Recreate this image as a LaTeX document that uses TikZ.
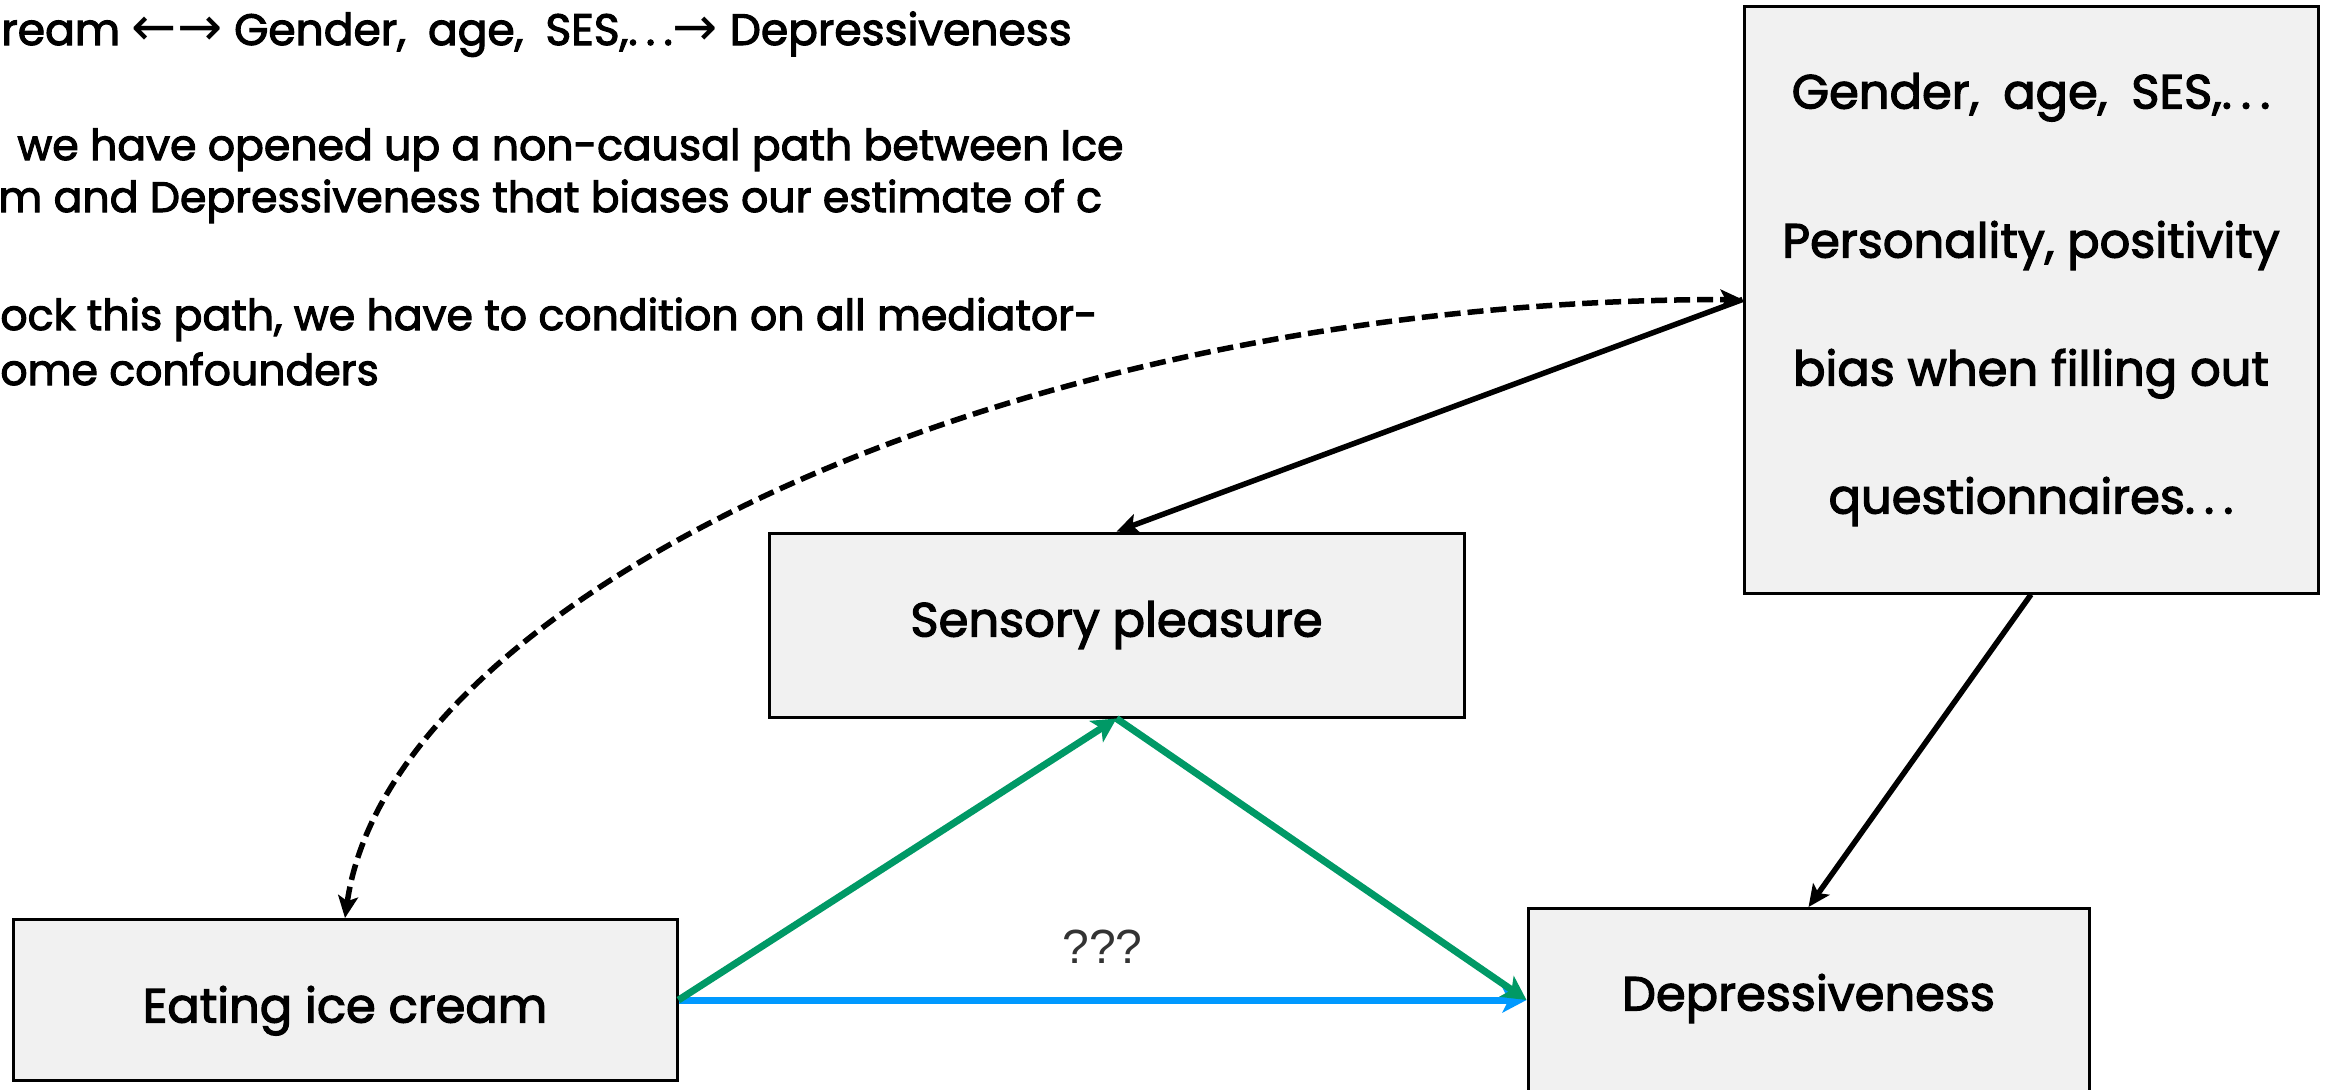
\documentclass[tikz,border=0pt]{standalone}
\usepackage{fontspec}
\setmainfont{Poppins}[FakeBold=2.5]
\newfontfamily\arrowglyphs{DejaVu Sans}
\newfontfamily\helv{Liberation Sans}
\usetikzlibrary{arrows.meta,calc}
\definecolor{boxgray}{HTML}{F1F1F1}
\definecolor{pathgreen}{HTML}{009966}
\definecolor{pathblue}{HTML}{0099FF}
\definecolor{labelgray}{HTML}{333333}
% widely spaced three dots
\newcommand\spdots{.\kern0.19em.\kern0.19em.}
% wide space after a comma
\newcommand\wsp{\hspace{0.5em}}
% enlarged arrow glyphs for the notes
\newcommand\bigarrow[1]{{\arrowglyphs\fontsize{27pt}{27pt}\selectfont #1}}
\begin{document}
\begin{tikzpicture}[x=0.5pt,y=-0.5pt,
  box/.style={draw=black,line width=1.5pt,fill=boxgray,inner sep=0pt,
    font=\fontsize{24pt}{28pt}\selectfont},
  note/.style={anchor=base west,inner sep=0pt,font=\fontsize{21.3pt}{25pt}\selectfont},
  qlabel/.style={inner sep=0pt,text=labelgray,font=\helv\fontsize{24pt}{28pt}\selectfont},
  blackarrow/.style={draw=black,line width=2.75pt,
    -{Stealth[length=11pt,width=10pt,inset=2.5pt]}},
  greenarrow/.style={draw=pathgreen,line width=3.5pt,
    -{Stealth[length=12pt,width=12.5pt,inset=3pt]}},
  bluearrow/.style={draw=pathblue,line width=3.5pt,
    -{Stealth[length=12pt,width=12.5pt,inset=3pt]}},
  dasharrow/.style={draw=black,line width=2.75pt,dash pattern=on 8pt off 3.5pt,
    {Stealth[length=11pt,width=10pt,inset=2.5pt]}-{Stealth[length=11pt,width=10pt,inset=2.5pt]}}]

\useasboundingbox (0,0) rectangle (2333,1089);
\clip (0,0) rectangle (2333,1089);
\fill[white] (0,0) rectangle (2333,1089);

% explanatory notes
\node[note,font=\fontsize{22pt}{26pt}\selectfont] (n1) at (1,45)
  {ream \bigarrow{←→} Gender,\wsp age,\wsp SES,\spdots\bigarrow{→} Depressiveness};
\node[note] (n2) at (17,160) {we have opened up a non-causal path between Ice};
\node[note] (n3) at (-2,212) {m and Depressiveness that biases our estimate of c};
\node[note] (n4) at (0,330) {ock this path, we have to condition on all mediator-};
\node[note] (n5) at (0,385) {ome confounders};

% variables
\node[box,minimum width=332pt,text height=51.5pt,text depth=29pt,anchor=north] (eat) at (345,918) {Eating ice cream};
\node[box,minimum width=347.5pt,minimum height=92pt] (sens) at (1116.5,625) {Sensory pleasure};
\node[box,minimum width=280.5pt,text height=51pt,text depth=96pt,anchor=north] (dep) at (1808.5,907) {Depressiveness};
\node[box,minimum width=287pt,minimum height=293.5pt,align=center,
  font=\fontsize{24pt}{64pt}\selectfont] (conf) at (2031,299.5)
  {Gender,\wsp age,\wsp SES,\spdots\\[10.5pt]Personality, positivity\\bias when filling out\\questionnaires\spdots};

% paths
\draw[bluearrow] (eat.east) -- (eat.east -| dep.west)
  node[midway,above=16.5pt,qlabel] (q) {???};
\draw[greenarrow] (eat.east) -- (sens.south);
\draw[greenarrow] (sens.south) -- (eat.east -| dep.west);
\draw[blackarrow] (conf.west) -- (sens.north);
\draw[blackarrow] (conf.south) -- (dep.north);
\draw[dasharrow] (eat.north) .. controls +(45,-316) and +(-741,0) .. (conf.west);
\end{tikzpicture}
\end{document}
